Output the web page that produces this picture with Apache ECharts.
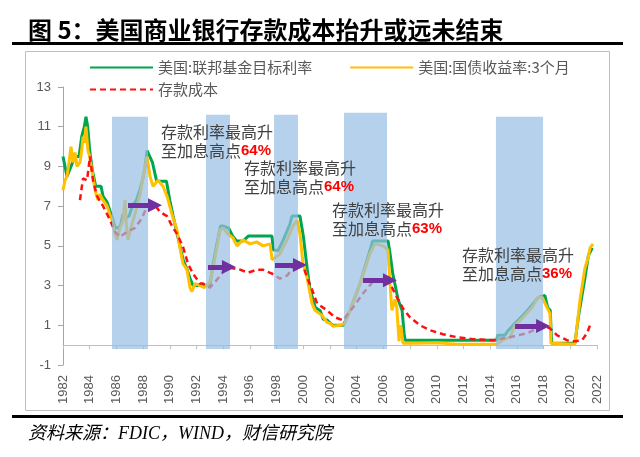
<!DOCTYPE html>
<html><head><meta charset="utf-8">
<script src="https://cdn.jsdelivr.net/npm/echarts@6/dist/echarts.min.js"></script>
<style>html,body{margin:0;padding:0;background:#fff}#c{width:640px;height:457px}</style>
</head><body><div id="c"></div>
<script>
// ---- data (x = position on the year axis as drawn, y = percent) ----
const yearTicks = [1982, 2022, 2];           // min, max, step of year labels
const valueTicks = [-1, 13, 2];              // min, max, step of value labels
const seriesNames = ['美国:联邦基金目标利率', '美国:国债收益率:3个月', '存款成本'];

const fedFunds = [[1982.0,9.5],[1982.3,8.5],[1982.6,9.0],[1982.9,9.5],[1983.2,9.5],[1983.4,10.5],[1983.6,11.0],[1983.72,11.5],[1983.85,11.0],[1984.0,9.8],[1984.2,8.8],[1984.45,8.0],[1984.85,8.0],[1985.0,7.5],[1985.3,7.2],[1985.5,6.8],[1985.75,6.3],[1985.9,5.9],[1986.05,5.9],[1986.3,6.0],[1986.5,6.6],[1986.7,6.4],[1986.95,6.5],[1987.2,7.0],[1987.5,7.3],[1987.75,7.8],[1987.95,8.3],[1988.15,9.0],[1988.3,9.8],[1988.5,9.5],[1988.7,9.2],[1989.0,8.3],[1989.2,8.25],[1989.75,8.25],[1990.0,7.3],[1990.25,6.5],[1990.55,5.6],[1991.0,4.3],[1991.3,3.8],[1991.55,3.3],[1991.75,3.0],[1993.0,3.0],[1993.25,4.1],[1993.5,5.0],[1993.8,6.0],[1993.95,6.0],[1994.4,5.9],[1994.7,5.5],[1995.0,5.25],[1995.5,5.25],[1995.9,5.5],[1997.65,5.5],[1997.75,4.8],[1998.1,4.75],[1998.5,5.3],[1999.0,6.1],[1999.15,6.5],[1999.75,6.5],[2000.0,5.5],[2000.3,3.8],[2000.5,2.8],[2000.9,1.9],[2001.25,1.75],[2001.5,1.3],[2001.8,1.25],[2002.2,1.0],[2003.0,1.0],[2003.5,1.75],[2004.25,3.1],[2005.0,4.8],[2005.2,5.25],[2006.35,5.25],[2006.5,4.6],[2006.7,3.6],[2007.1,2.3],[2007.4,1.75],[2007.55,0.6],[2007.62,0.25],[2014.5,0.25],[2014.55,0.5],[2015.1,0.5],[2015.3,0.7],[2015.86,1.1],[2016.6,1.6],[2017.1,2.0],[2017.6,2.4],[2017.73,2.5],[2018.1,2.5],[2018.3,1.9],[2018.5,1.75],[2018.6,0.1],[2020.35,0.1],[2020.6,1.4],[2021.1,3.4],[2021.35,4.5],[2021.65,4.9]];

const tbill3m = [[1982.0,7.8],[1982.15,8.3],[1982.3,8.5],[1982.45,9.2],[1982.6,10.0],[1982.75,9.2],[1982.9,9.7],[1983.05,9.0],[1983.27,9.2],[1983.4,9.8],[1983.5,10.5],[1983.6,10.2],[1983.72,11.0],[1983.87,9.8],[1984.0,9.5],[1984.17,8.8],[1984.4,7.8],[1984.62,7.3],[1984.75,7.6],[1985.0,7.3],[1985.3,7.0],[1985.5,6.6],[1985.67,6.3],[1985.9,5.6],[1986.04,5.3],[1986.27,5.9],[1986.5,6.3],[1986.64,7.3],[1986.75,6.0],[1986.87,5.3],[1987.05,5.8],[1987.17,6.1],[1987.39,6.6],[1987.77,7.6],[1988.14,9.0],[1988.29,9.5],[1988.52,8.5],[1988.74,8.0],[1989.12,8.3],[1989.49,8.0],[1989.79,7.5],[1990.16,6.6],[1990.54,5.8],[1990.76,4.9],[1990.99,4.1],[1991.29,3.8],[1991.51,2.9],[1991.66,2.7],[1991.89,3.1],[1992.26,3.0],[1992.6,2.9],[1993.01,3.2],[1993.39,4.4],[1993.76,5.8],[1993.99,5.9],[1994.36,5.6],[1994.73,5.4],[1995.03,5.0],[1995.48,5.3],[1996.01,5.1],[1996.5,5.2],[1996.98,5.0],[1997.51,5.1],[1997.62,5.2],[1997.66,4.3],[1997.88,4.4],[1998.25,4.6],[1998.78,5.3],[1999.23,6.0],[1999.53,6.3],[1999.75,5.6],[1999.98,4.1],[2000.28,3.4],[2000.65,2.1],[2000.88,1.75],[2001.4,1.5],[2001.78,1.15],[2002.0,1.1],[2002.22,0.95],[2002.75,1.0],[2003.12,1.1],[2003.5,1.75],[2004.25,3.1],[2004.99,4.6],[2005.37,5.1],[2005.97,5.0],[2006.34,4.8],[2006.49,3.1],[2006.64,1.75],[2006.87,2.3],[2007.0,1.9],[2007.17,0.2],[2007.3,1.0],[2007.47,0.1],[2008.5,0.1],[2010.0,0.12],[2011.5,0.05],[2013.0,0.05],[2014.5,0.05],[2014.9,0.25],[2015.48,0.4],[2015.86,1.0],[2016.61,1.5],[2017.13,1.9],[2017.58,2.4],[2017.9,2.4],[2018.25,1.9],[2018.48,1.6],[2018.55,0.1],[2020.35,0.05],[2020.73,2.3],[2021.1,3.9],[2021.33,4.4],[2021.48,4.9],[2021.7,5.1]];

const depositCost = [[1983.27,7.3],[1983.5,8.4],[1983.8,8.3],[1984.02,9.5],[1984.25,8.3],[1984.55,7.5],[1985.0,7.0],[1985.52,6.3],[1985.9,5.7],[1986.27,5.45],[1986.79,5.7],[1987.39,5.9],[1987.92,6.4],[1988.29,7.0],[1988.89,7.05],[1989.27,6.7],[1989.79,6.5],[1990.16,6.0],[1990.54,5.6],[1990.99,4.95],[1991.36,4.1],[1991.74,3.6],[1992.26,3.1],[1992.49,3.1],[1993.01,2.9],[1993.54,3.3],[1993.99,3.7],[1994.51,3.9],[1995.26,3.8],[1995.86,3.65],[1996.53,3.8],[1996.98,3.8],[1997.66,3.6],[1998.25,3.35],[1998.78,3.5],[1999.23,3.9],[1999.6,4.2],[1999.98,4.0],[2000.35,3.3],[2000.65,2.8],[2001.03,2.1],[2001.25,2.0],[2001.78,1.75],[2002.37,1.4],[2002.97,1.25],[2003.72,1.9],[2004.47,2.6],[2005.22,3.2],[2005.97,3.35],[2006.34,3.3],[2006.72,2.8],[2007.09,2.3],[2007.47,1.85],[2007.99,1.4],[2008.74,1.0],[2009.49,0.75],[2010.46,0.55],[2011.51,0.4],[2012.71,0.3],[2014.21,0.25],[2015.48,0.4],[2016.76,0.6],[2017.51,0.85],[2018.1,0.95],[2018.48,0.85],[2019.0,0.5],[2019.75,0.25],[2020.35,0.2],[2020.88,0.25],[2021.25,0.6],[2021.48,1.0]];

// shaded hike periods: [start, end, top]
const hikeBands = [[1985.67,1988.37,11.5],[1992.71,1994.51,11.6],[1997.81,1999.6,11.6],[2003.05,2006.27,11.7],[2014.43,2017.96,11.5]];
const bandBottom = -0.2;
// arrows: [start, end, level]
const lagArrows = [[1986.87,1988.89,7.05],[1992.86,1994.43,3.93],[1997.88,1999.75,4.03],[2004.47,2006.49,3.27],[2015.86,2017.96,0.96]];
// annotation texts and their peak-pass-through percentages
const noteLine1 = '存款利率最高升';
const noteLine2 = '至加息高点';
const notePcts = ['64%', '64%', '63%', '36%'];
const notePos = [[161,122],[244,158],[332,200],[462,245]];

const titleText = '图 5：美国商业银行存款成本抬升或远未结束';
const sourceText = '资料来源：FDIC，WIND，财信研究院';

const chart = echarts.init(document.getElementById('c'), null, {renderer: 'canvas'});
const gray = '#595959';
const cjk = '"Noto Sans CJK SC", "Liberation Sans", sans-serif';

const graphics = [
  {type:'text', x:28, y:18, style:{text:titleText, font:'bold 24px ' + cjk, fill:'#000'}},
  {type:'rect', shape:{x:12, y:42, width:611, height:3}, style:{fill:'#000'}},
  {type:'rect', shape:{x:25.5, y:51.5, width:584, height:359}, style:{fill:'none', stroke:'#bfbfbf', lineWidth:1}},
  {type:'rect', shape:{x:12, y:415, width:611, height:3}, style:{fill:'#000'}},
  {type:'text', x:28, y:425, style:{text:sourceText, font:'italic 18px "Liberation Serif", "Noto Sans CJK SC", serif', fill:'#000'}}
];
notePcts.forEach((p, i) => {
  graphics.push({type:'text', x:notePos[i][0], y:notePos[i][1], z:100,
    style:{text: noteLine1 + '\n' + noteLine2 + '{r|' + p + '}', font:'16px ' + cjk, fill:'#404040', lineHeight:19,
      rich:{r:{font:'bold 15px "Liberation Sans", sans-serif', fill:'#ff0000', lineHeight:19}}}});
});

const legendText = {color:gray, fontSize:15, fontFamily:cjk};
const option = {
  animation: false,
  grid: {left: 63, right: 43, top: 87, bottom: 92},
  legend: [
    {data:[seriesNames[0], seriesNames[1]], left:84, top:55, itemGap:37, itemWidth:63, itemHeight:14,
      itemStyle:{opacity:0}, textStyle:legendText},
    {data:[seriesNames[2]], left:84, top:77, itemWidth:63, itemHeight:14,
      itemStyle:{opacity:0}, textStyle:legendText}
  ],
  xAxis: [
    {type:'value', min:yearTicks[0], max:yearTicks[1], interval:yearTicks[2],
      axisLine:{show:true, onZero:true, lineStyle:{color:'#bfbfbf', width:1}},
      axisTick:{show:true, length:4, lineStyle:{color:'#bfbfbf'}},
      axisLabel:{show:false}, splitLine:{show:false}},
    {type:'value', position:'bottom', min:yearTicks[0], max:yearTicks[1], interval:yearTicks[2],
      axisLine:{show:false, onZero:false}, axisTick:{show:false}, splitLine:{show:false},
      axisLabel:{rotate:90, margin:10, color:gray, fontSize:13, fontFamily:'"Liberation Sans", sans-serif', formatter:v => String(v)}}
  ],
  yAxis: {type:'value', min:valueTicks[0], max:valueTicks[1], interval:valueTicks[2],
    axisLine:{show:true, lineStyle:{color:'#a6a6a6'}}, axisTick:{show:true, length:5, lineStyle:{color:'#a6a6a6'}},
    splitLine:{show:false},
    axisLabel:{color:gray, fontSize:13, margin:12, fontFamily:'"Liberation Sans", sans-serif'}},
  graphic: graphics,
  series: [
    {name:seriesNames[0], type:'line', data:fedFunds, symbol:'none', showSymbol:false, z:2, color:'#00a550',
      lineStyle:{width:3, color:'#00a550'}},
    {name:seriesNames[1], type:'line', data:tbill3m, symbol:'none', showSymbol:false, z:3, color:'#ffc000',
      lineStyle:{width:3, color:'#ffc000'}},
    {name:seriesNames[2], type:'line', data:depositCost, symbol:'none', showSymbol:false, z:4, color:'#ff1010',
      lineStyle:{width:2.5, type:[6,4], color:'#ff1010'}},
    {name:'bands', type:'line', data:[], z:10, silent:true,
      markArea:{z:10, silent:true, itemStyle:{color:'rgba(150,190,228,0.7)'},
        data: hikeBands.map(b => [{coord:[b[0], bandBottom]}, {coord:[b[1], b[2]]}])}},
    {name:'arrows', type:'line', data:[], z:11, silent:true,
      markLine:{z:11, silent:true, symbol:['none','triangle'], symbolSize:[14,14], label:{show:false},
        lineStyle:{color:'#7030a0', width:5, type:'solid'},
        data: lagArrows.map(a => [{coord:[a[0], a[2]]}, {coord:[a[1], a[2]]}])}}
  ]
};
chart.setOption(option);
</script></body></html>
